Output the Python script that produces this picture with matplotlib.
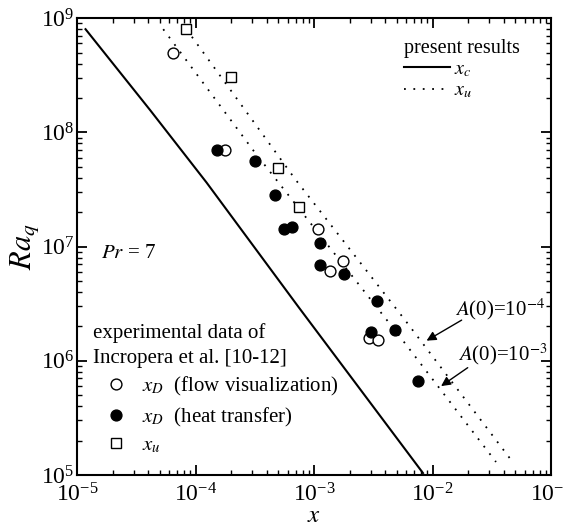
import numpy as np
import matplotlib
matplotlib.use('Agg')
import matplotlib.pyplot as plt
from matplotlib.ticker import LogLocator, NullFormatter

plt.rcParams['font.family'] = ['Liberation Serif', 'DejaVu Serif']
plt.rcParams['mathtext.fontset'] = 'stix'

# present results: critical point x_c and onset x_u for two A(0)
xc_x = [1.18e-5, 4.13e-5, 1.24e-4, 7.37e-4, 8.3e-3]
xc_ra = [8.0e8, 1.57e8, 3.63e7, 2.97e6, 1.04e5]

xu_a3_x = [5.34e-5, 3.18e-4, 5.32e-3, 0.0343]
xu_a3_ra = [8.0e8, 6.62e7, 1.62e6, 1.30e5]

xu_a4_x = [8.37e-5, 6.92e-4, 5.86e-3, 0.0466]
xu_a4_ra = [8.0e8, 3.90e7, 2.27e6, 1.33e5]

# experimental data of Incropera et al.
flow_x = [6.5e-5, 1.775e-4, 1.074e-3, 1.365e-3, 1.766e-3, 2.93e-3, 3.45e-3]
flow_ra = [4.97e8, 7.04e7, 1.42e7, 6.14e6, 7.46e6, 1.58e6, 1.52e6]

heat_x = [1.51e-4, 3.18e-4, 4.69e-4, 5.58e-4, 6.56e-4, 1.124e-3, 1.124e-3,
          1.79e-3, 3.38e-3, 3.03e-3, 4.85e-3, 7.50e-3]
heat_ra = [7.04e7, 5.64e7, 2.82e7, 1.43e7, 1.47e7, 1.07e7, 6.85e6,
           5.71e6, 3.36e6, 1.79e6, 1.85e6, 6.65e5]

xu_x = [8.32e-5, 1.98e-4, 5.0e-4, 7.52e-4]
xu_ra = [8.0e8, 3.06e8, 4.90e7, 2.23e7]

fig = plt.figure(figsize=(5.63, 5.30), dpi=100)
ax = fig.add_axes([0.1368, 0.1038, 0.842, 0.862])

l_c, = ax.plot(xc_x, xc_ra, 'k-', lw=1.5)
l_u, = ax.plot(xu_a3_x, xu_a3_ra, 'k', lw=1.3, linestyle=(0, (1, 4.2)))
ax.plot(xu_a4_x, xu_a4_ra, 'k', lw=1.3, linestyle=(0, (1, 4.2)))

p_flow, = ax.plot(flow_x, flow_ra, 'o', ms=7.8, mfc='white', mec='k', mew=1.0, ls='none')
p_heat, = ax.plot(heat_x, heat_ra, 'o', ms=7.8, mfc='k', mec='k', ls='none')
p_xu, = ax.plot(xu_x, xu_ra, 's', ms=7, mfc='white', mec='k', mew=1.0, ls='none')

ax.set_xscale('log')
ax.set_yscale('log')
ax.set_xlim(1e-5, 1e-1)
ax.set_ylim(1e5, 1e9)

for axis in (ax.xaxis, ax.yaxis):
    axis.set_major_locator(LogLocator(base=10, numticks=10))
    axis.set_minor_locator(LogLocator(base=10, subs=np.arange(2, 10), numticks=10))
    axis.set_minor_formatter(NullFormatter())

ax.tick_params(which='both', direction='in', top=True, right=True, labelsize=17)
ax.tick_params(which='major', length=7, width=1.3)
ax.tick_params(which='minor', length=3.5, width=1.0)
ax.tick_params(axis='x', which='major', pad=6)
ax.tick_params(axis='y', which='major', pad=2)
for s in ax.spines.values():
    s.set_linewidth(1.5)

ax.set_xlabel('$x$', fontsize=18, labelpad=-1)
ax.set_ylabel('$Ra_q$', fontsize=22, labelpad=0)

ax.text(0.05, 0.475, '$Pr$ = 7', transform=ax.transAxes, fontsize=15)

leg1 = ax.legend([l_c, l_u], ['$x_c$', '$x_u$'], title='present results',
                 loc='upper left', bbox_to_anchor=(0.69, 0.955), frameon=False,
                 fontsize=14.5, title_fontsize=14.5, handlelength=2.3, handletextpad=0.2,
                 labelspacing=0.12, borderpad=0, borderaxespad=0, alignment='left')
ax.add_artist(leg1)

leg2 = ax.legend([p_flow, p_heat, p_xu],
                 ['$x_D$  (flow visualization)', '$x_D$  (heat transfer)', '$x_u$'],
                 title='experimental data of\nIncropera et al. [10-12]',
                 loc='upper left', bbox_to_anchor=(0.033, 0.333), frameon=False,
                 fontsize=15, title_fontsize=15, handlelength=2.2, handletextpad=0.15,
                 labelspacing=0.36, borderpad=0, borderaxespad=0, alignment='left')
leg2.get_title().set_linespacing(1.42)

# A(0) labels with arrows onto the x_u curves
arrow = dict(arrowstyle='-|>', color='k', lw=1.0, mutation_scale=14, shrinkA=0, shrinkB=0)
ax.text(0.0155, 2.5e6, '$A$(0)=10$^{-4}$', fontsize=15, ha='left', va='baseline')
ax.annotate('', xy=(8.9e-3, 1.50e6), xytext=(0.0176, 2.27e6), arrowprops=arrow)
ax.text(0.0164, 1.0e6, '$A$(0)=10$^{-3}$', fontsize=15, ha='left', va='baseline')
ax.annotate('', xy=(0.0118, 6.0e5), xytext=(0.0198, 8.7e5), arrowprops=arrow)

fig.savefig('out.png', dpi=100)
